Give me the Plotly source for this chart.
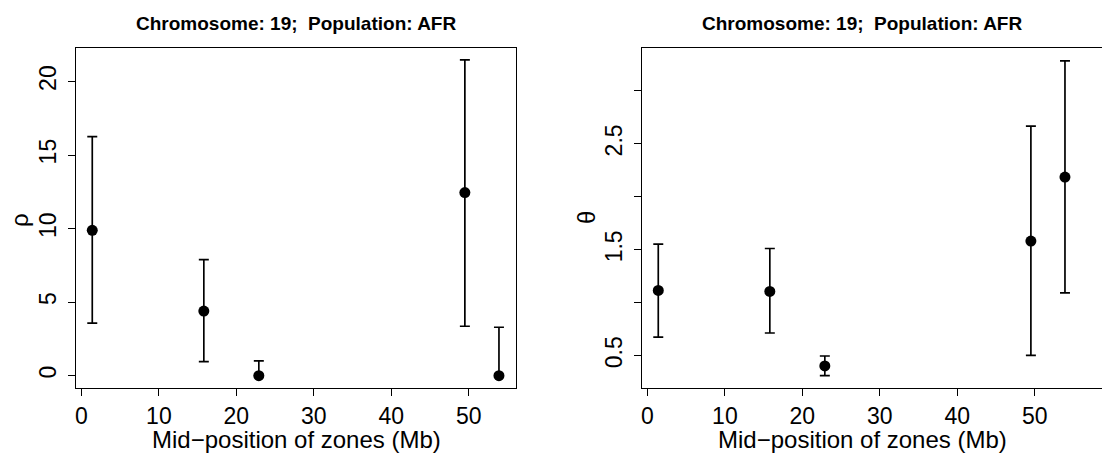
import plotly.graph_objects as go

# Data
pos = [1.4, 15.8, 22.9, 49.5, 53.9]
rho = [9.88, 4.39, 0.0, 12.45, 0.0]
rho_lo = [3.57, 0.95, 0.0, 3.36, 0.0]
rho_hi = [16.25, 7.89, 1.0, 21.47, 3.29]
theta = [1.116, 1.107, 0.403, 1.582, 2.186]
theta_lo = [0.676, 0.714, 0.311, 0.503, 1.092]
theta_hi = [1.554, 1.512, 0.497, 2.667, 3.283]

title_txt = "Chromosome: 19;  Population: AFR"
xlab = "Mid\u2212position of zones (Mb)"
rho_ticks = [0, 5, 10, 15, 20]
theta_tickvals = [0.5, 1.0, 1.5, 2.0, 2.5, 3.0]
theta_ticktext = ["0.5", "", "1.5", "", "2.5", ""]
x_ticks = [0, 10, 20, 30, 40, 50]

W, H = 1102, 455
FONT = "Liberation Sans, Arial, Helvetica, sans-serif"
TICKFONT = dict(family=FONT, size=23, color="black")

fig = go.Figure()

def add_series(y, lo, hi, xa, ya):
    plus = [h - v for h, v in zip(hi, y)]
    minus = [v - l for v, l in zip(y, lo)]
    fig.add_trace(go.Scatter(
        x=pos, y=y, mode="markers", xaxis=xa, yaxis=ya,
        marker=dict(size=11, color="black"),
        error_y=dict(type="data", symmetric=False, array=plus, arrayminus=minus,
                     color="black", thickness=1.7, width=5),
        showlegend=False, hoverinfo="skip"))

add_series(rho, rho_lo, rho_hi, "x", "y")
add_series(theta, theta_lo, theta_hi, "x2", "y2")

def px(x):
    return x / W

def py(y):
    return 1 - y / H

common_x = dict(showline=True, linecolor="black", linewidth=1, ticks="outside",
                ticklen=7, tickwidth=1, tickcolor="black", showgrid=False,
                zeroline=False, tickfont=TICKFONT, tickvals=x_ticks,
                ticklabelstandoff=0)
common_y = dict(showline=True, linecolor="black", linewidth=1, ticks="outside",
                ticklen=7, tickwidth=1, tickcolor="black", showgrid=False,
                zeroline=False, tickfont=TICKFONT, tickangle=-90,
                ticklabelstandoff=3)

ydom = [py(388.3), py(48.3)]

fig.update_layout(
    width=W, height=H,
    margin=dict(l=0, r=0, t=0, b=0),
    paper_bgcolor="white", plot_bgcolor="white",
    xaxis=dict(domain=[px(76), px(516)], range=[-0.7, 56.1], mirror=True,
               anchor="y", **common_x),
    yaxis=dict(domain=ydom, range=[-0.86, 22.26], mirror=True, anchor="x",
               tickvals=rho_ticks, **common_y),
    xaxis2=dict(domain=[px(642), 1.0], range=[-0.7, 58.68], mirror=True,
                anchor="y2", **common_x),
    yaxis2=dict(domain=ydom, range=[0.192, 3.402], mirror=False, anchor="x2",
                tickvals=theta_tickvals, ticktext=theta_ticktext, **common_y),
)

ann = []
for cx in (296, 862):
    ann.append(dict(x=px(cx), y=py(23), xref="paper", yref="paper",
                    text="<b>" + title_txt + "</b>", showarrow=False,
                    xanchor="center", yanchor="middle",
                    font=dict(family=FONT, size=19, color="black")))
    ann.append(dict(x=px(cx), y=py(439.5), xref="paper", yref="paper",
                    text=xlab, showarrow=False, xanchor="center", yanchor="middle",
                    font=dict(family=FONT, size=24, color="black")))
ann.append(dict(x=px(19), y=py(220), xref="paper", yref="paper", text="\u03c1",
                showarrow=False, textangle=-90, xanchor="center", yanchor="middle",
                font=dict(family=FONT, size=24, color="black")))
ann.append(dict(x=px(586), y=py(218), xref="paper", yref="paper", text="\u03b8",
                showarrow=False, textangle=-90, xanchor="center", yanchor="middle",
                font=dict(family=FONT, size=24, color="black")))
fig.update_layout(annotations=ann)

fig.write_html("out.html")
